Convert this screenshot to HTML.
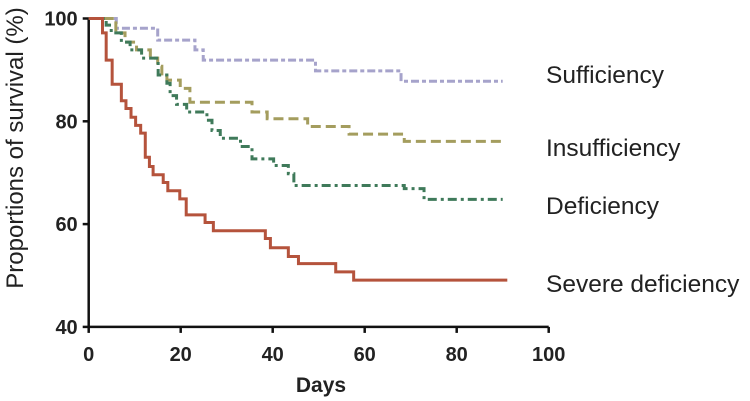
<!DOCTYPE html>
<html><head><meta charset="utf-8"><style>
body{margin:0;background:#fff;}
svg{display:block;font-family:"Liberation Sans",Arial,sans-serif;}
</style></head><body>
<svg id="chart" width="750" height="401" viewBox="0 0 750 401" xmlns="http://www.w3.org/2000/svg">
<g id="axes"></g><g id="series"></g><g id="labels"></g>
</svg>
<script>
const xTicks=[0,20,40,60,80,100];
const yTicks=[40,60,80,100];
const seriesNames=["Sufficiency","Insufficiency","Deficiency","Severe deficiency"];
const suffDays=[0,6,15,23.1,24.9,49.3,67.9,90];
const suffVals=[100,98.1,95.8,93.9,91.9,89.8,87.8,87.8];
const insuffDays=[0,5.9,7.9,10.4,13.4,15,15.9,17,19.9,22,35.5,38.8,47.6,56.6,68.6,90];
const insuffVals=[100,97.2,95.4,93.9,92.3,90.7,88.8,88,86.4,83.7,81.8,80.5,79,77.5,76.1,76.1];
const defDays=[0,3.8,4.9,7.1,9,11.5,15.1,17,17.7,19.1,21.3,25.7,26.8,28.6,33,35.5,40.2,43.4,44.6,68.6,72.9,90];
const defVals=[100,98.7,97.2,95.4,93.9,92.3,89,87.4,85,83.3,81.8,80.2,78.2,76.7,75.1,72.7,71.4,69.8,67.5,66.9,64.8,64.8];
const sevDays=[0,3,3.8,5.1,7.1,8.1,9.2,10.2,11.3,12.3,13.2,14,16.2,17.2,19.8,21.2,25.3,27.1,38.4,39.5,43.4,45.6,53.7,57.6,91];
const sevVals=[100,97.2,91.9,87.2,84,82.5,80.8,79.2,77.7,73,71.2,69.6,68.1,66.5,64.9,61.8,60.3,58.7,57.2,55.4,53.7,52.3,50.7,49.1,49.1];
const labelY=[75,148,206,284];

const X=d=>88.7+d*4.6;
const Y=v=>18.5+(100-v)*5.14;
const NS="http://www.w3.org/2000/svg";
function mk(t,a,p){const e=document.createElementNS(NS,t);for(const k in a)e.setAttribute(k,a[k]);p.appendChild(e);return e;}
const axes=document.getElementById('axes');
const xa=mk('line',{x1:X(0),y1:Y(40),x2:X(100),y2:Y(40),stroke:'#111','stroke-width':2.5},axes);


const ya=mk('line',{x1:X(0),y1:Y(40)+1,x2:X(0),y2:Y(100)-1,stroke:'#111','stroke-width':2.5},axes);


xTicks.forEach(t=>{
 mk('line',{x1:X(t),y1:Y(40),x2:X(t),y2:Y(40)+6,stroke:'#111','stroke-width':2.5},axes);
 const tx=mk('text',{x:X(t),y:Y(40)+34,'text-anchor':'middle','font-size':20,'font-weight':'bold',fill:'#222'},axes);
 tx.textContent=t;
 
 
});
yTicks.forEach(t=>{
 mk('line',{x1:X(0)-6,y1:Y(t),x2:X(0),y2:Y(t),stroke:'#111','stroke-width':2.5},axes);
 const tx=mk('text',{x:X(0)-11,y:Y(t)+7,'text-anchor':'end','font-size':20,'font-weight':'bold',fill:'#222'},axes);
 tx.textContent=t;
 
 
});
const xt=mk('text',{x:321,y:392,'text-anchor':'middle','font-size':21,'font-weight':'bold',fill:'#222'},axes);
xt.textContent='Days';


const yt=mk('text',{x:0,y:0,'text-anchor':'middle','font-size':24,fill:'#222',transform:'translate(23,148) rotate(-90)'},axes);
yt.textContent='Proportions of survival (%)';



const ser=document.getElementById('series');
const defs=[[suffDays,suffVals,'#a6a3cb','4 3 8 3'],[insuffDays,insuffVals,'#a49d5e','10 5'],[defDays,defVals,'#3f7a5a','9 4 3 4'],[sevDays,sevVals,'#b5533c','none']];
defs.forEach((s,i)=>{
 const [d,v,c,da]=s;
 let p='M'+X(d[0])+','+Y(v[0]);
 for(let k=1;k<d.length;k++){p+=' H'+X(d[k])+' V'+Y(v[k]);}
 const el=mk('path',{d:p,fill:'none',stroke:c,'stroke-width':3,'stroke-dasharray':da},ser);
 
 
 const lb=mk('text',{x:546,y:labelY[i]+8,'font-size':24.5,fill:'#222'},document.getElementById('labels'));
 lb.textContent=seriesNames[i];
 
 
});
</script>
</body></html>
